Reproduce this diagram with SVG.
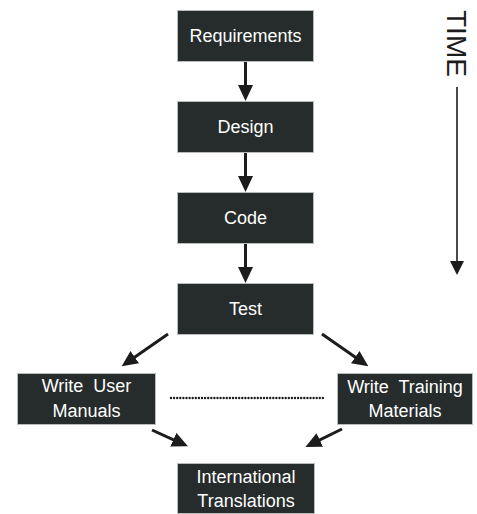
<svg xmlns="http://www.w3.org/2000/svg" width="477" height="514" viewBox="0 0 477 514">
  <style>
    .box { fill: #252c2b; stroke: #b8bcbb; stroke-width: 1; }
    .lbl { fill: #ffffff; font-family: "Liberation Sans", Arial, sans-serif; font-size: 18px; text-anchor: middle; word-spacing: 5px; }
    .arrow { stroke: #1c1c1c; stroke-width: 3; fill: none; marker-end: url(#head); }
    .time { fill: #1c1c1c; font-family: "Liberation Sans", Arial, sans-serif; font-size: 28px; }
  </style>
  <defs>
    <marker id="head" markerUnits="userSpaceOnUse" markerWidth="16" markerHeight="15" refX="5" refY="7.5" orient="auto" viewBox="0 0 16 15">
      <path d="M0,0 L16,7.5 L0,15 Z" fill="#1c1c1c"/>
    </marker>
    <marker id="thead" markerUnits="userSpaceOnUse" markerWidth="14" markerHeight="14" refX="3" refY="7" orient="auto" viewBox="0 0 14 14">
      <path d="M0,0 L14,7 L0,14 Z" fill="#1c1c1c"/>
    </marker>
  </defs>

  <!-- time axis -->
  <g id="time">
    <text class="time" transform="translate(447,10) rotate(90)">TIME</text>
    <line x1="457" y1="87" x2="457" y2="264" stroke="#1c1c1c" stroke-width="1.6" marker-end="url(#thead)"/>
  </g>

  <!-- connectors -->
  <g id="connectors">
    <line class="arrow" x1="245.5" y1="62" x2="245.5" y2="90"/>
    <line class="arrow" x1="245.5" y1="153" x2="245.5" y2="181"/>
    <line class="arrow" x1="245.5" y1="244" x2="245.5" y2="272"/>
    <line class="arrow" x1="168" y1="334" x2="130.7" y2="360"/>
    <line class="arrow" x1="322" y1="334" x2="359.3" y2="360"/>
    <line class="arrow" x1="152" y1="430" x2="177.9" y2="441.8"/>
    <line class="arrow" x1="342" y1="429" x2="315.3" y2="442.2"/>
    <line x1="171" y1="398" x2="325" y2="398" stroke="#1c1c1c" stroke-width="2.4" stroke-linecap="round" stroke-dasharray="0 3.1"/>
  </g>

  <g id="requirements">
    <rect class="box" x="177.5" y="10.5" width="136" height="51"/>
    <text class="lbl" x="245.5" y="42">Requirements</text>
  </g>
  <g id="design">
    <rect class="box" x="177.5" y="101.5" width="136" height="51"/>
    <text class="lbl" x="245.5" y="133">Design</text>
  </g>
  <g id="code">
    <rect class="box" x="177.5" y="192.5" width="136" height="51"/>
    <text class="lbl" x="245.5" y="224">Code</text>
  </g>
  <g id="test">
    <rect class="box" x="177.5" y="283.5" width="136" height="51"/>
    <text class="lbl" x="245.5" y="315">Test</text>
  </g>
  <g id="user-manuals">
    <rect class="box" x="17.5" y="373.5" width="138" height="51"/>
    <text class="lbl" x="86.5" y="392">Write User</text>
    <text class="lbl" x="86.5" y="417">Manuals</text>
  </g>
  <g id="training-materials">
    <rect class="box" x="337.5" y="373.5" width="135" height="51"/>
    <text class="lbl" x="405" y="393">Write Training</text>
    <text class="lbl" x="405" y="417">Materials</text>
  </g>
  <g id="translations">
    <rect class="box" x="177.5" y="463.5" width="137" height="50"/>
    <text class="lbl" x="246" y="483">International</text>
    <text class="lbl" x="246" y="507">Translations</text>
  </g>
</svg>
